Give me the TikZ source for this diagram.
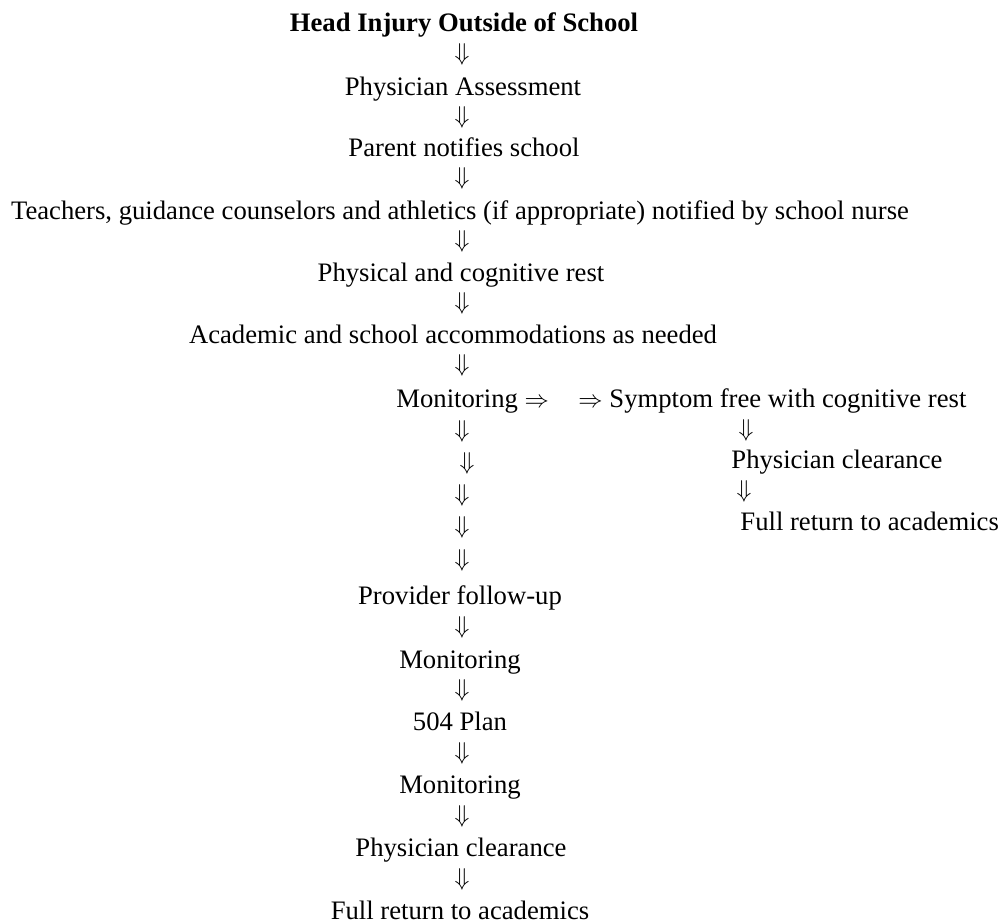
\documentclass[tikz,border=0pt]{standalone}
\usepackage{fontspec}
\setmainfont{Liberation Serif}
\begin{document}
\begin{tikzpicture}[x=0.45pt,y=-0.45pt,
  txt/.style={inner sep=0pt,anchor=base,font=\fontsize{12}{14}\selectfont},
  txtw/.style={inner sep=0pt,anchor=base west,font=\fontsize{12}{14}\selectfont},
  darr/.style={inner sep=0pt,anchor=center,font=\fontsize{11}{12}\selectfont}]
\useasboundingbox (0,0) rectangle (999,923);
% main column
\node[txt,font=\fontsize{12}{14}\selectfont\bfseries] (t1) at (464,31) {Head Injury Outside of School};
\node[darr] (d1) at (462,54) {$\Downarrow$};
\node[txt] (t2) at (463,95) {Physician Assessment};
\node[darr] (d2) at (462,117) {$\Downarrow$};
\node[txt] (t3) at (464,156) {Parent notifies school};
\node[darr] (d3) at (462,178) {$\Downarrow$};
\node[txt] (t4) at (460,219) {Teachers, guidance counselors and athletics (if appropriate) notified by school nurse};
\node[darr] (d4) at (462,241) {$\Downarrow$};
\node[txt] (t5) at (461,281) {Physical and cognitive rest};
\node[darr] (d5) at (462,303) {$\Downarrow$};
\node[txt] (t6) at (453,343) {Academic and school accommodations as needed};
\node[darr] (d6) at (462,365) {$\Downarrow$};
\node[txtw] (t7) at (396,407) {Monitoring \fontsize{11}{12}\selectfont$\Rightarrow$};
\node[txtw] (r1) at (578,407) {{\fontsize{11}{12}\selectfont$\Rightarrow$} Symptom free with cognitive rest};
% left down arrows
\node[darr] (d7) at (462,431) {$\Downarrow$};
\node[darr] (d8) at (467,463) {$\Downarrow$};
\node[darr] (d9) at (462,495) {$\Downarrow$};
\node[darr] (d10) at (462,527) {$\Downarrow$};
\node[darr] (d11) at (462,560) {$\Downarrow$};
% right column
\node[darr] (rd1) at (746,430) {$\Downarrow$};
\node[txtw] (r2) at (731,468) {Physician clearance};
\node[darr] (rd2) at (744,491) {$\Downarrow$};
\node[txtw] (r3) at (740,530) {Full return to academics};
% lower column
\node[txt] (t8) at (460,604) {Provider follow-up};
\node[darr] (d12) at (462,627) {$\Downarrow$};
\node[txt] (t9) at (460,668) {Monitoring};
\node[darr] (d13) at (462,690) {$\Downarrow$};
\node[txt] (t10) at (460,730) {504 Plan};
\node[darr] (d14) at (462,753) {$\Downarrow$};
\node[txt] (t11) at (460,793) {Monitoring};
\node[darr] (d15) at (462,816) {$\Downarrow$};
\node[txt] (t12) at (461,856) {Physician clearance};
\node[darr] (d16) at (462,879) {$\Downarrow$};
\node[txt] (t13) at (460,919) {Full return to academics};
\end{tikzpicture}
\end{document}
